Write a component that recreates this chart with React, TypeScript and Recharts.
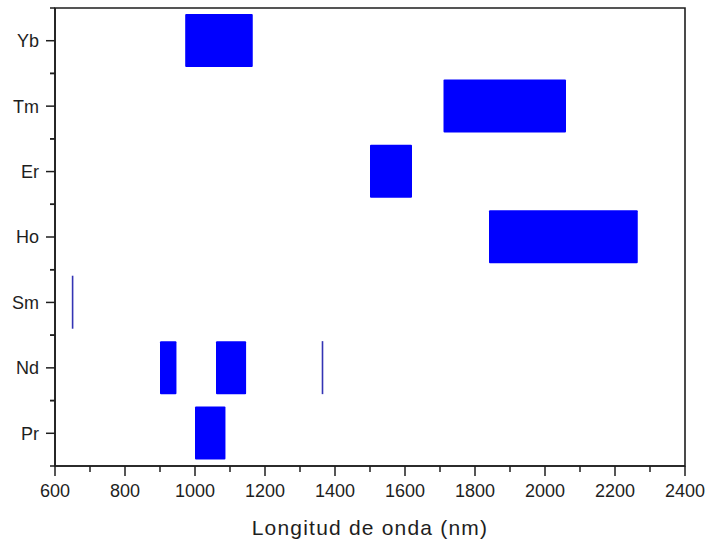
import { Bar, BarChart, ReferenceArea, XAxis, YAxis } from "recharts";

const elements = ["Yb", "Tm", "Er", "Ho", "Sm", "Nd", "Pr"];

// emission windows in nm; Nd is the only ion with more than one window
const firstWindow: [number, number][] = [
  [972, 1165],
  [1710, 2060],
  [1500, 1620],
  [1840, 2265],
  [648, 652],
  [900, 947],
  [1000, 1087],
];
const secondWindow: ([number, number] | null)[] = [null, null, null, null, null, [1060, 1146], null];
const thirdWindow: ([number, number] | null)[] = [null, null, null, null, null, [1362, 1366], null];

const wavelengthTicks = [
  600, 700, 800, 900, 1000, 1100, 1200, 1300, 1400, 1500, 1600, 1700, 1800, 1900, 2000, 2100,
  2200, 2300, 2400,
];
const labelledTicks = [600, 800, 1000, 1200, 1400, 1600, 1800, 2000, 2200, 2400];

const rows = elements.map((element, i) => ({
  element,
  first: firstWindow[i],
  second: secondWindow[i],
  third: thirdWindow[i],
}));

const INK = "#1e1e1e";
const BLUE = "#0000ff";
const FONT = "'Liberation Sans', Arial, sans-serif";

function WavelengthTick({ x, y, payload }: any) {
  const major = labelledTicks.includes(payload.value);
  return (
    <g>
      <line x1={x} x2={x} y1={y} y2={y + (major ? 10 : 6)} stroke={INK} strokeWidth={1.5} />
      {major && (
        <text x={x} y={y + 31} textAnchor="middle" fontSize={18} fontFamily={FONT} fill={INK}>
          {payload.value}
        </text>
      )}
    </g>
  );
}

function ElementTick({ x, y, payload }: any) {
  const half = payload?.offset || 458 / 14;
  return (
    <g>
      <line x1={x - 9} x2={x} y1={y} y2={y} stroke={INK} strokeWidth={1.5} />
      <line x1={x - 5} x2={x} y1={y - half} y2={y - half} stroke={INK} strokeWidth={1.5} />
      <line x1={x - 5} x2={x} y1={y + half} y2={y + half} stroke={INK} strokeWidth={1.5} />
      <text x={x - 16} y={y} dy="0.36em" textAnchor="end" fontSize={18} fontFamily={FONT} fill={INK}>
        {payload.value}
      </text>
    </g>
  );
}

// very narrow windows come out as a darker hairline
function WindowShape({ x, y, width, height }: any) {
  if (!width || width <= 0) return null;
  const thin = width < 3;
  return (
    <rect
      x={x}
      y={y}
      width={thin ? 1.6 : width}
      height={height}
      rx={thin ? 0 : 1}
      fill={thin ? "#3434b4" : BLUE}
    />
  );
}

function AxisTitle({ viewBox }: any) {
  const { x, y, width } = viewBox;
  return (
    <text
      x={x + width / 2}
      y={y + 69}
      textAnchor="middle"
      fontSize={21}
      letterSpacing={1.2}
      fontFamily={FONT}
      fill={INK}
    >
      Longitud de onda (nm)
    </text>
  );
}

export default function App() {
  return (
    <div
      style={{
        position: "absolute",
        left: 0,
        top: 0,
        width: 708,
        height: 541,
        overflow: "hidden",
        background: "#fff",
      }}
    >
      <BarChart
        width={708}
        height={541}
        layout="vertical"
        data={rows}
        barSize={53}
        margin={{ top: 8, right: 23, bottom: 0, left: 0 }}
      >
        <XAxis
          type="number"
          domain={[600, 2400]}
          ticks={wavelengthTicks}
          interval={0}
          allowDataOverflow
          height={75}
          tickSize={0}
          tickMargin={0}
          tickLine={false}
          axisLine={{ stroke: INK, strokeWidth: 1.6 }}
          tick={<WavelengthTick />}
          label={<AxisTitle />}
        />
        <YAxis
          yAxisId="first"
          type="category"
          dataKey="element"
          width={55}
          interval={0}
          tickSize={0}
          tickMargin={0}
          tickLine={false}
          axisLine={{ stroke: INK, strokeWidth: 1.6 }}
          tick={<ElementTick />}
        />
        <YAxis yAxisId="second" type="category" dataKey="element" hide />
        <YAxis yAxisId="third" type="category" dataKey="element" hide />
        <ReferenceArea
          yAxisId="first"
          x1={600}
          x2={2400}
          fill="none"
          stroke={INK}
          strokeWidth={1.6}
        />
        <Bar yAxisId="first" dataKey="first" shape={<WindowShape />} isAnimationActive={false} />
        <Bar yAxisId="second" dataKey="second" shape={<WindowShape />} isAnimationActive={false} />
        <Bar yAxisId="third" dataKey="third" shape={<WindowShape />} isAnimationActive={false} />
      </BarChart>
    </div>
  );
}
